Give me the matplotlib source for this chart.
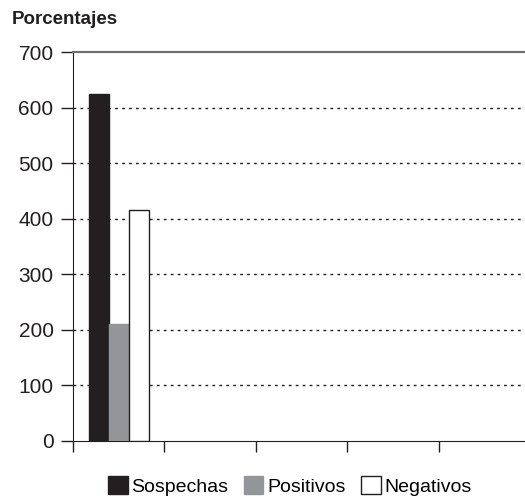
import numpy as np
import matplotlib.pyplot as plt
from matplotlib.patches import Patch

plt.rcParams['font.family'] = ['Liberation Sans', 'DejaVu Sans']

categories = ['', '', '', '', '']
series_names = ['Sospechas', 'Positivos', 'Negativos']
sospechas = [624, 0, 0, 0, 0]
positivos = [210, 0, 0, 0, 0]
negativos = [415, 0, 0, 0, 0]
colors = ['#231f20', '#939598', '#ffffff']

fig = plt.figure(figsize=(5.25, 4.99), dpi=100)
ax = fig.add_axes([73 / 525, 58 / 499, 1 - 73 / 525, (441 - 52) / 499])

x = np.arange(len(categories))
w = 0.22
values = [sospechas, positivos, negativos]
for i, (vals, name, c) in enumerate(zip(values, series_names, colors)):
    v = np.array(vals)
    mask = v > 0
    ax.bar(x[mask] + (i - 1) * w, v[mask], width=w, color=c,
           edgecolor='#231f20' if c == '#ffffff' else c, linewidth=1, zorder=3)

ax.set_ylim(0, 700)
ax.set_yticks(range(0, 701, 100))
ax.set_xlim(-0.5, 4.44)
ax.set_xticks(np.arange(-0.5, 4.5, 1.0))
ax.set_xticklabels([])
for y in range(100, 700, 100):
    ax.axhline(y, color='#231f20', linestyle=(0, (2, 3)), linewidth=1, zorder=1)

ax.spines['right'].set_visible(False)
ax.spines['top'].set_color('#6d6e71')
ax.spines['top'].set_linewidth(1.6)
ax.spines['left'].set_color('#231f20')
ax.spines['bottom'].set_color('#231f20')
ax.tick_params(axis='y', length=9, width=1, labelsize=15, pad=5, colors='#231f20')
ax.tick_params(axis='x', length=8, width=1, colors='#231f20')

fig.text(12 / 525, 1 - 20 / 499, 'Porcentajes', fontsize=13.5, fontweight='bold',
         va='center', ha='left', color='#231f20')

handles = [Patch(facecolor=c, edgecolor='#231f20' if c == '#ffffff' else c, linewidth=1)
           for c in colors]
fig.legend(handles, series_names, loc='center', bbox_to_anchor=(290 / 525, 1 - 486 / 499),
           ncol=3, frameon=False, fontsize=14, handlelength=1.0, handleheight=1.0,
           handletextpad=0.2, columnspacing=0.8)

plt.savefig('out.png', dpi=100)
